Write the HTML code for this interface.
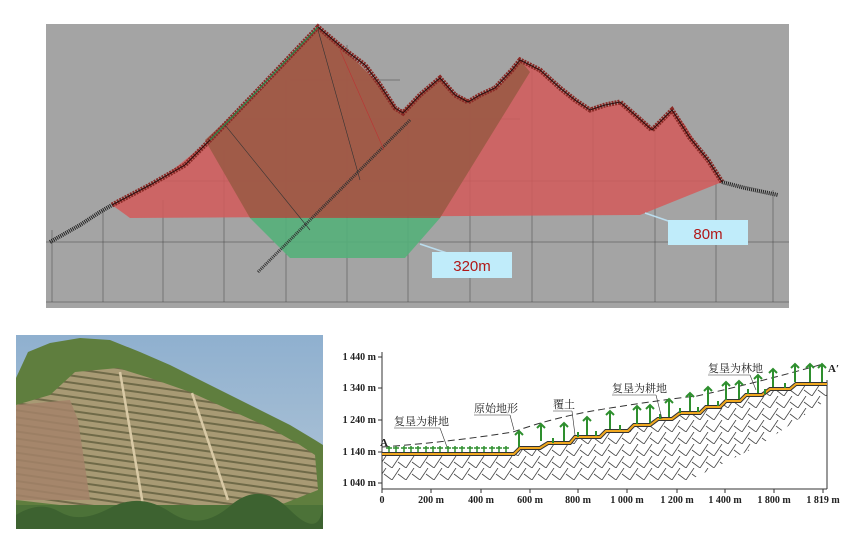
<!DOCTYPE html>
<html><head><meta charset="utf-8"><style>
html,body{margin:0;padding:0;background:#fff;width:852px;height:541px;overflow:hidden}
svg{display:block}
text{font-family:"Liberation Serif","Noto Serif CJK SC",serif}
</style></head><body>
<svg width="852" height="541" viewBox="0 0 852 541" xmlns="http://www.w3.org/2000/svg">
<defs>
<pattern id="hatch" width="14" height="12" patternUnits="userSpaceOnUse">
<path d="M0 12 L8 0 M6 6 L14 12" stroke="#444" stroke-width="0.8" fill="none"/>
</pattern>
<pattern id="terr" width="8" height="7" patternUnits="userSpaceOnUse" patternTransform="rotate(8)">
<rect width="8" height="7" fill="#a89a74"/>
<rect y="4" width="8" height="2" fill="#6f6a48"/>
</pattern>
<linearGradient id="sky" x1="0" y1="0" x2="0" y2="1"><stop offset="0" stop-color="#8fb0cf"/><stop offset="1" stop-color="#b5c8d8"/></linearGradient>
</defs>

<!-- TOP PANEL -->
<rect x="46" y="24" width="743" height="284" fill="#a4a4a4"/>
<g stroke="#444" stroke-width="0.5" fill="none">
<line x1="46" y1="242" x2="789" y2="242"/>
<line x1="46" y1="302" x2="789" y2="302"/>
<line x1="160" y1="181" x2="720" y2="181"/>
<line x1="240" y1="119" x2="520" y2="119"/>
<line x1="290" y1="80" x2="400" y2="80"/>
<path d="M52 230V302M103 210V302M163 200V302M224 150V302M286 80V302M347 45V302M408 112V302M470 100V302M532 70V302M593 110V302M655 125V302M716 180V302M773 190V302"/>
</g>
<polygon points="112,205 130,218 640,215 722,182 700,150 685,125 672,110 652,128 622,103 590,110 560,90 540,70 520,60 500,85 470,100 455,95 440,78 420,95 400,113 380,85 345,50 318,27 260,90 210,140 160,180" fill="#d35a5a" fill-opacity="0.85"/>
<polygon points="250,218 440,218 405,258 290,258" fill="#55b07a" fill-opacity="0.9"/>
<polygon points="205,140 260,90 318,27 345,50 380,85 400,113 420,95 440,78 455,95 470,100 500,85 520,60 530,72 440,218 250,218" fill="#9b5a45" fill-opacity="0.9"/>
<polyline points="112,205 150,185 185,165 210,140 260,88 318,27 345,50 365,65 380,85 395,108 403,113 420,95 440,78 455,95 468,102 480,95 495,88 512,70 520,60 540,70 560,88 575,100 590,110 605,105 620,102 635,115 652,130 672,110 690,138 708,160 722,182" fill="none" stroke="#8a2a26" stroke-width="5" stroke-dasharray="2 1"/>
<polyline points="112,205 150,185 185,165 210,140 260,88 318,27 345,50 365,65 380,85 395,108 403,113 420,95 440,78 455,95 468,102 480,95 495,88 512,70 520,60 540,70 560,88 575,100 590,110 605,105 620,102 635,115 652,130 672,110 690,138 708,160 722,182" fill="none" stroke="#2a1010" stroke-width="1"/>
<polyline points="50,242 80,225 100,212 112,205" fill="none" stroke="#222" stroke-width="4" stroke-dasharray="1 1"/>
<polyline points="722,182 745,188 778,195" fill="none" stroke="#222" stroke-width="4" stroke-dasharray="1 1"/>
<polyline points="210,140 260,88 318,27" fill="none" stroke="#2e8a4a" stroke-width="1.2"/>
<line x1="258" y1="272" x2="410" y2="120" stroke="#333" stroke-width="3" stroke-dasharray="1 1"/>
<line x1="318" y1="30" x2="360" y2="180" stroke="#333" stroke-width="0.6"/>
<line x1="225" y1="125" x2="310" y2="230" stroke="#333" stroke-width="0.6"/>
<line x1="340" y1="50" x2="384" y2="150" stroke="#b33" stroke-width="0.6"/>
<line x1="420" y1="244" x2="450" y2="254" stroke="#bde" stroke-width="1.5"/>
<line x1="645" y1="213" x2="680" y2="225" stroke="#bde" stroke-width="1.5"/>
<rect x="432" y="252" width="80" height="26" fill="#c0ecfa"/>
<text x="472" y="271" text-anchor="middle" style="font-family:'Liberation Sans',sans-serif" font-size="15" fill="#b01818">320m</text>
<rect x="668" y="220" width="80" height="25" fill="#c0ecfa"/>
<text x="708" y="239" text-anchor="middle" style="font-family:'Liberation Sans',sans-serif" font-size="15" fill="#b01818">80m</text>

<!-- PHOTO -->
<g>
<rect x="16" y="335" width="307" height="194" fill="url(#sky)"/>
<polygon points="16,378 28,352 50,343 80,338 110,340 140,352 170,365 200,380 230,395 260,410 290,425 315,440 323,445 323,529 16,529" fill="#5f7e3e"/>
<polygon points="16,405 50,395 75,372 118,368 150,378 190,392 230,410 270,428 300,445 315,455 318,490 280,505 200,510 120,508 60,505 16,500" fill="url(#terr)"/>
<polygon points="16,405 70,400 78,420 90,500 16,500" fill="#a4826a" opacity="0.85"/>
<line x1="120" y1="372" x2="143" y2="505" stroke="#d8c9a5" stroke-width="2.5"/>
<line x1="192" y1="393" x2="228" y2="500" stroke="#d8c9a5" stroke-width="2.5"/>
<rect x="16" y="505" width="307" height="24" fill="#4c7238"/>
<path d="M16 515 Q40 500 60 512 T110 508 T170 512 T230 506 T290 510 T323 505 V529 H16Z" fill="#3d6230"/>
</g>

<!-- PROFILE CHART -->
<g font-size="10" fill="#222" font-weight="bold">
<line x1="382" y1="352" x2="382" y2="489" stroke="#333" stroke-width="1"/>
<line x1="382" y1="489" x2="827" y2="489" stroke="#333" stroke-width="1"/>
<line x1="827" y1="380" x2="827" y2="489" stroke="#333" stroke-width="1"/>
<g stroke="#333"><line x1="378" y1="357" x2="382" y2="357"/><line x1="378" y1="388" x2="382" y2="388"/><line x1="378" y1="420" x2="382" y2="420"/><line x1="378" y1="452" x2="382" y2="452"/><line x1="378" y1="483" x2="382" y2="483"/>
<path d="M382 489v4M431 489v4M481 489v4M530 489v4M578 489v4M627 489v4M677 489v4M725 489v4M774 489v4M823 489v4"/></g>
<text x="376" y="360" text-anchor="end">1 440 m</text>
<text x="376" y="391" text-anchor="end">1 340 m</text>
<text x="376" y="423" text-anchor="end">1 240 m</text>
<text x="376" y="455" text-anchor="end">1 140 m</text>
<text x="376" y="486" text-anchor="end">1 040 m</text>
<g text-anchor="middle"><text x="382" y="503">0</text><text x="431" y="503">200 m</text><text x="481" y="503">400 m</text><text x="530" y="503">600 m</text><text x="578" y="503">800 m</text><text x="627" y="503">1 000 m</text><text x="677" y="503">1 200 m</text><text x="725" y="503">1 400 m</text><text x="774" y="503">1 800 m</text><text x="823" y="503">1 819 m</text></g>
<polygon points="382,455 514,455 520,447 540,447 548,442 570,442 575,436 600,436 606,430 628,430 634,424 650,424 658,418 672,418 680,412 700,412 706,406 720,406 726,400 740,400 746,394 762,394 770,388 790,388 796,383 827,383 827,400 760,445 720,465 690,480 382,480" fill="url(#hatch)"/>
<polyline points="382,454 514,454 520,448 540,448 548,443 570,443 575,437 600,437 606,431 628,431 634,425 650,425 658,419 672,419 680,413 700,413 706,407 720,407 726,401 740,401 746,395 762,395 770,389 790,389 796,384 827,384" fill="none" stroke="#333" stroke-width="4"/>
<polyline points="382,454 514,454 520,448 540,448 548,443 570,443 575,437 600,437 606,431 628,431 634,425 650,425 658,419 672,419 680,413 700,413 706,407 720,407 726,401 740,401 746,395 762,395 770,389 790,389 796,384 827,384" fill="none" stroke="#f0a820" stroke-width="2"/>
<path d="M382 447 Q450 442 513 432 Q560 415 617 407 Q660 400 697 396 Q760 382 823 364" fill="none" stroke="#333" stroke-width="1" stroke-dasharray="7 4"/>
<g stroke="#2e8f2e" stroke-width="1.5" fill="none">
<path d="M389 452v-6M396 452v-6M404 452v-6M411 452v-6M418 452v-6M426 452v-6M433 452v-6M440 452v-6M448 452v-6M455 452v-6M462 452v-6M470 452v-6M477 452v-6M484 452v-6M492 452v-6M499 452v-6M506 452v-6"/>
<path d="M386 448h6M393 448h6M401 448h6M408 448h6M415 448h6M423 448h6M430 448h6M437 448h6M445 448h6M452 448h6M459 448h6M467 448h6M474 448h6M481 448h6M489 448h6M496 448h6M503 448h6"/>
</g>
<g stroke="#2e8f2e" stroke-width="2" fill="none">
<path d="M519 447v-16m-4 4l4 -4 4 4M541 441v-17m-4 4l4-4 4 4M564 441v-18m-4 4l4-4 4 4M587 435v-18m-4 4l4-4 4 4M610 429v-18m-4 4l4-4 4 4M637 424v-18m-4 4l4-4 4 4M650 423v-18m-4 4l4-4 4 4M669 417v-18m-4 4l4-4 4 4M690 411v-18m-4 4l4-4 4 4M708 405v-18m-4 4l4-4 4 4M726 400v-18m-4 4l4-4 4 4M739 399v-18m-4 4l4-4 4 4M758 393v-18m-4 4l4-4 4 4M773 387v-18m-4 4l4-4 4 4M795 382v-18m-4 4l4-4 4 4M810 382v-18m-4 4l4-4 4 4M822 382v-18m-4 4l4-4 4 4"/>
<path d="M553 443v-5M578 437v-5M596 436v-5M620 430v-5M660 419v-5M680 413v-5M698 412v-5M718 406v-5M748 394v-5M765 394v-5M785 388v-5"/>
</g>
<g font-size="11" font-weight="normal">
<text x="394" y="425">复垦为耕地</text>
<line x1="394" y1="428" x2="440" y2="428" stroke="#333" stroke-width="0.6"/>
<line x1="440" y1="428" x2="447" y2="447" stroke="#333" stroke-width="0.6"/>
<text x="474" y="412">原始地形</text>
<line x1="474" y1="415" x2="510" y2="415" stroke="#333" stroke-width="0.6"/>
<line x1="510" y1="415" x2="514" y2="430" stroke="#333" stroke-width="0.6"/>
<text x="553" y="408">覆土</text>
<line x1="553" y1="411" x2="572" y2="411" stroke="#333" stroke-width="0.6"/>
<line x1="572" y1="411" x2="575" y2="435" stroke="#333" stroke-width="0.6"/>
<text x="612" y="392">复垦为耕地</text>
<line x1="612" y1="395" x2="656" y2="395" stroke="#333" stroke-width="0.6"/>
<line x1="656" y1="395" x2="662" y2="419" stroke="#333" stroke-width="0.6"/>
<text x="708" y="372">复垦为林地</text>
<line x1="708" y1="375" x2="750" y2="375" stroke="#333" stroke-width="0.6"/>
<line x1="750" y1="375" x2="756" y2="390" stroke="#333" stroke-width="0.6"/>
<text x="380" y="446" font-weight="bold">A</text>
<text x="828" y="372" font-weight="bold">A′</text>
</g>
</g>
</svg>
</body></html>
